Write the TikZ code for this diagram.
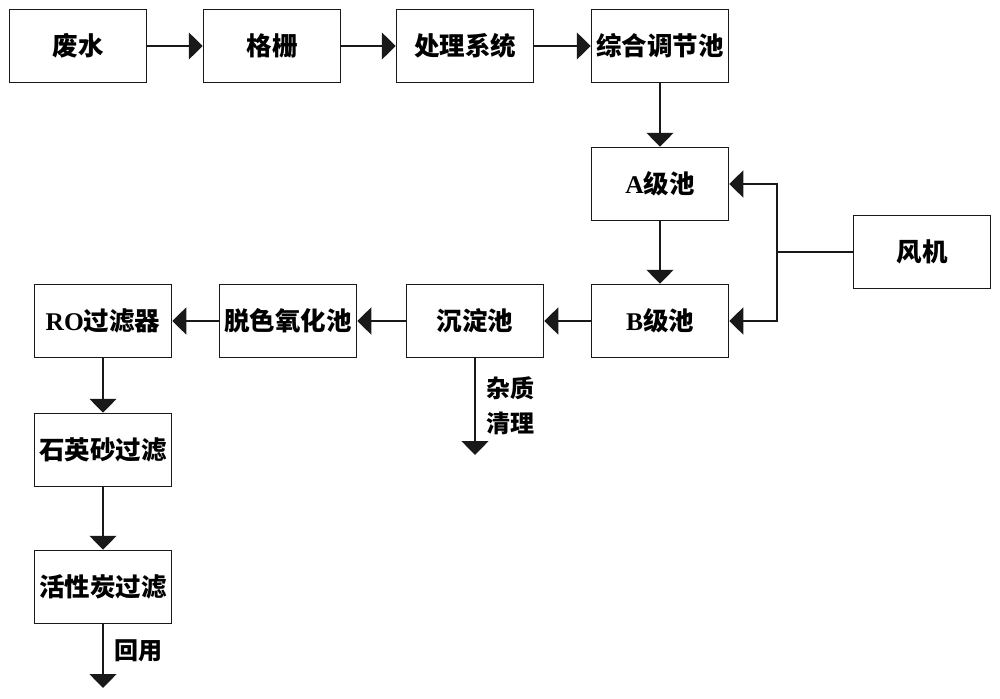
\documentclass[tikz,border=0pt]{standalone}
\usepackage{fontspec}
\newfontfamily\cjk{Noto Sans CJK SC}
\newfontfamily\lat{Liberation Serif}
\usetikzlibrary{arrows.meta,positioning}
\tikzset{
  box/.style={draw=black!90, line width=1.5pt, rectangle, minimum width=137pt, minimum height=73pt, inner sep=0pt, font=\cjk\bfseries\fontsize{25.5}{28}\selectfont},
  flow/.style={draw=black!90, line width=1.5pt, -{Triangle[length=14pt,width=27pt]}},
  plain/.style={draw=black!90, line width=1.5pt},
  lbl/.style={inner sep=0pt, font=\cjk\bfseries\fontsize{24}{35}\selectfont, align=left}
}
\begin{document}
\begin{tikzpicture}[x=1pt,y=-1pt]
\useasboundingbox (0,0) rectangle (1000,698);
\node[box] (fs) at (78,46) {废水};
\node[box] (gs) at (272,46) {格栅};
\node[box] (cl) at (465,46) {处理系统};
\node[box] (tj) at (660,46) {综合调节池};
\node[box] (a) at (660,184) {{\lat A}级池};
\node[box] (b) at (660,321) {{\lat B}级池};
\node[box] (fj) at (922,252) {风机};
\node[box] (cd) at (475,321) {沉淀池};
\node[box] (ts) at (288,321) {脱色氧化池};
\node[box] (ro) at (103,321) {{\lat RO}过滤器};
\node[box] (sy) at (103,450) {石英砂过滤};
\node[box] (hx) at (103,587) {活性炭过滤};
\coordinate (j) at (777,252);
\coordinate (cdout) at (475,455);
\coordinate (hxout) at (103,688);
\draw[flow] (fs) -- (gs);
\draw[flow] (gs) -- (cl);
\draw[flow] (cl) -- (tj);
\draw[flow] (tj) -- (a);
\draw[flow] (a) -- (b);
\draw[plain] (fj.west) -- (j);
\draw[flow] (j) |- (a.east);
\draw[flow] (j) |- (b.east);
\draw[flow] (b) -- (cd);
\draw[flow] (cd) -- (ts);
\draw[flow] (ts) -- (ro);
\draw[flow] (ro) -- (sy);
\draw[flow] (sy) -- (hx);
\draw[flow] (cd.south) -- (cdout);
\draw[flow] (hx.south) -- (hxout);
\node[lbl, anchor=west] (zz) at (486,406) {杂质\\清理};
\node[lbl, anchor=west] (hy) at (114,651) {回用};
\end{tikzpicture}
\end{document}
